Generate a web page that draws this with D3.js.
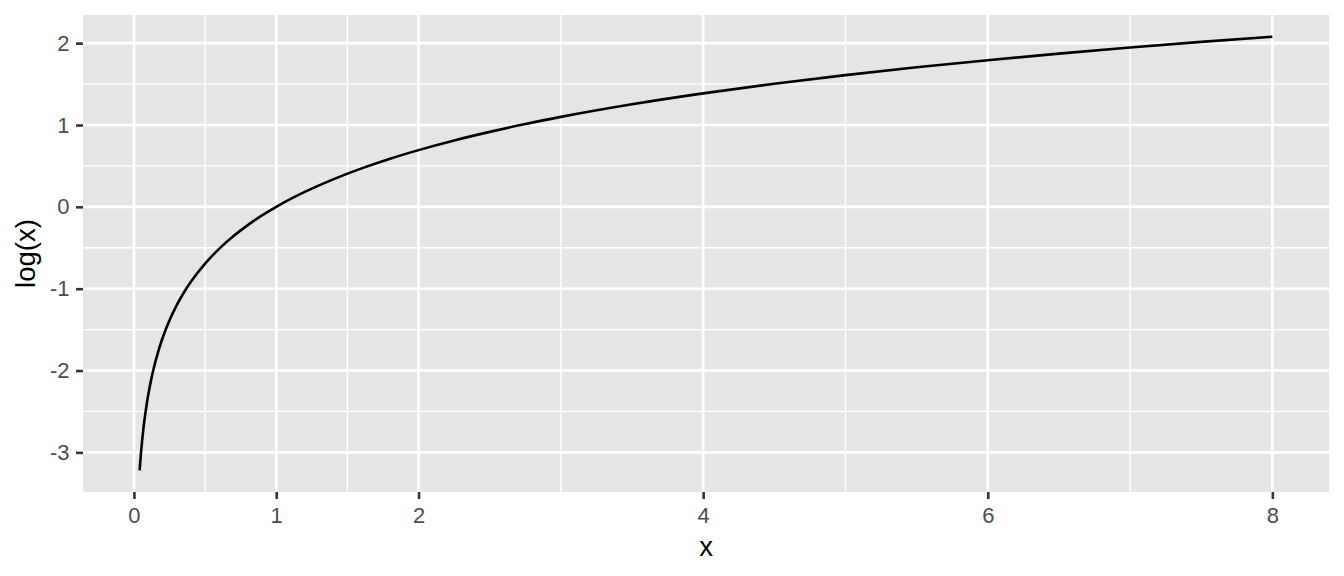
<!DOCTYPE html>
<html>
<head>
<meta charset="utf-8">
<script src="https://cdn.jsdelivr.net/npm/d3@7"></script>
<style>
  html, body { margin: 0; padding: 0; background: #ffffff; }
  svg { display: block; font-family: "Liberation Sans", Arial, sans-serif; }
</style>
</head>
<body>
<svg id="chart" width="1344" height="576"></svg>
<script>
// Data
const xValues = [0.04, 0.045, 0.05, 0.06, 0.07, 0.08, 0.09, 0.1, 0.12, 0.14, 0.17, 0.2, 0.25, 0.3, 0.35, 0.4, 0.5, 0.6, 0.7, 0.8, 0.9, 1, 1.2, 1.4, 1.6, 1.8, 2, 2.25, 2.5, 2.75, 3, 3.5, 4, 4.5, 5, 5.5, 6, 6.5, 7, 7.5, 8];
const yValues = [-3.219, -3.101, -2.996, -2.813, -2.659, -2.526, -2.408, -2.303, -2.120, -1.966, -1.772, -1.609, -1.386, -1.204, -1.050, -0.916, -0.693, -0.511, -0.357, -0.223, -0.105, 0, 0.182, 0.336, 0.470, 0.588, 0.693, 0.811, 0.916, 1.012, 1.099, 1.253, 1.386, 1.504, 1.609, 1.705, 1.792, 1.872, 1.946, 2.015, 2.079];
const xBreaks = [0, 1, 2, 4, 6, 8];
const xMinorBreaks = [0.5, 1.5, 3, 5, 7];
const yBreaks = [-3, -2, -1, 0, 1, 2];
const yMinorBreaks = [-2.5, -1.5, -0.5, 0.5, 1.5];
const xTitle = "x";
const yTitle = "log(x)";

const W = 1344, H = 576;
const margin = { top: 15, right: 15, bottom: 84, left: 83 };
const pw = W - margin.left - margin.right;
const ph = H - margin.top - margin.bottom;

const points = xValues.map((x, i) => ({ x, y: yValues[i] }));

const xmin = d3.min(xValues), xmax = d3.max(xValues);
const ymin = d3.min(yValues), ymax = d3.max(yValues);
const xpad = (xmax - xmin) * 0.05, ypad = (ymax - ymin) * 0.05;

const x = d3.scaleLinear().domain([xmin - xpad, xmax + xpad]).range([0, pw]);
const y = d3.scaleLinear().domain([ymin - ypad, ymax + ypad]).range([ph, 0]);

const svg = d3.select("#chart");
const g = svg.append("g").attr("transform", `translate(${margin.left},${margin.top})`);

g.append("rect").attr("width", pw).attr("height", ph).attr("fill", "#e5e5e5");

// minor grid
g.selectAll(".xminor").data(xMinorBreaks).enter().append("line")
  .attr("x1", d => x(d)).attr("x2", d => x(d)).attr("y1", 0).attr("y2", ph)
  .attr("stroke", "#ffffff").attr("stroke-width", 1.3);
g.selectAll(".yminor").data(yMinorBreaks).enter().append("line")
  .attr("y1", d => y(d)).attr("y2", d => y(d)).attr("x1", 0).attr("x2", pw)
  .attr("stroke", "#ffffff").attr("stroke-width", 1.3);
// major grid
g.selectAll(".xmajor").data(xBreaks).enter().append("line")
  .attr("x1", d => x(d)).attr("x2", d => x(d)).attr("y1", 0).attr("y2", ph)
  .attr("stroke", "#ffffff").attr("stroke-width", 2.6);
g.selectAll(".ymajor").data(yBreaks).enter().append("line")
  .attr("y1", d => y(d)).attr("y2", d => y(d)).attr("x1", 0).attr("x2", pw)
  .attr("stroke", "#ffffff").attr("stroke-width", 2.6);

// line
const line = d3.line().x(d => x(d.x)).y(d => y(d.y)).curve(d3.curveMonotoneX);
g.append("path").datum(points).attr("d", line)
  .attr("fill", "none").attr("stroke", "#000000").attr("stroke-width", 2.6);

// axes
const xAxis = d3.axisBottom(x).tickValues(xBreaks).tickFormat(d3.format("d")).tickSize(7).tickPadding(8);
const yAxis = d3.axisLeft(y).tickValues(yBreaks).tickFormat(d => d < 0 ? "-" + Math.abs(d) : String(d)).tickSize(7).tickPadding(6.5);

const gx = g.append("g").attr("transform", `translate(0,${ph})`).call(xAxis);
const gy = g.append("g").call(yAxis);
[gx, gy].forEach(a => {
  a.select(".domain").remove();
  a.selectAll(".tick line").attr("stroke", "#333333").attr("stroke-width", 2.6);
  a.selectAll(".tick text").attr("fill", "#4d4d4d").style("font-size", "22px");
});

// titles
svg.append("text").attr("x", margin.left + pw / 2).attr("y", 556)
  .attr("text-anchor", "middle").attr("fill", "#000").style("font-size", "27.5px").text(xTitle);
svg.append("text").attr("transform", `translate(35,${margin.top + ph / 2}) rotate(-90)`)
  .attr("text-anchor", "middle").attr("fill", "#000").style("font-size", "27.5px").text(yTitle);
</script>
</body>
</html>
